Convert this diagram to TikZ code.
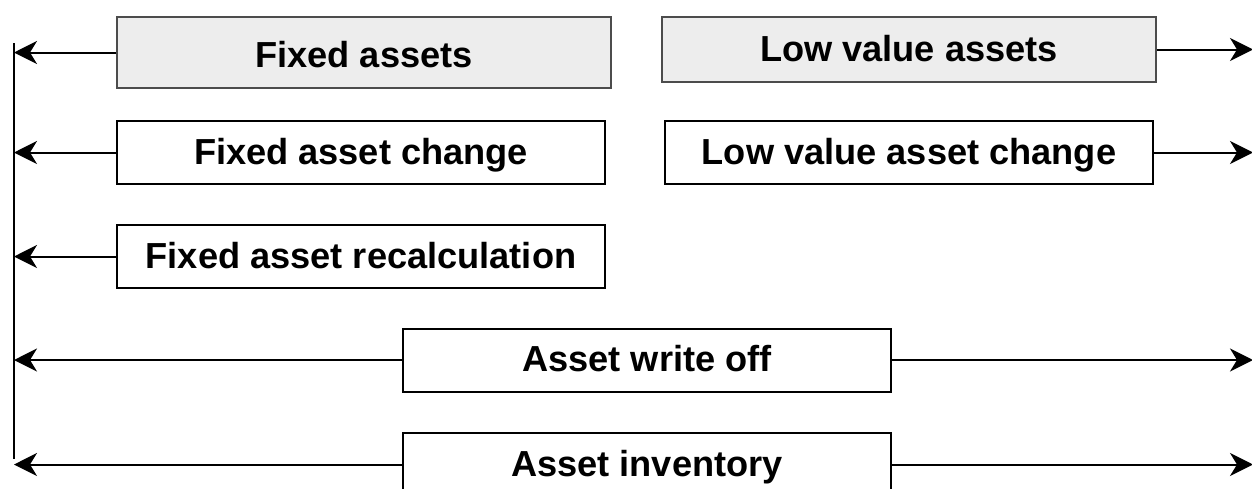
\documentclass[tikz,border=0pt]{standalone}
\usepackage{fontspec}
\setmainfont{Liberation Sans}
\usetikzlibrary{arrows.meta}

\begin{document}
\begin{tikzpicture}[x=1pt,y=-1pt,
    module/.style={draw,line width=1pt,inner sep=0pt,minimum width=244pt,minimum height=31.5pt,
        text height=11.5pt,text depth=0pt,font=\fontsize{18.1}{22}\selectfont\bfseries},
    mainmodule/.style={module,draw=black!70,fill=black!7,minimum width=247pt},
    flow/.style={line width=1pt,-{Stealth[length=11.5pt,width=11.5pt,inset=3.5pt]}}]
    \useasboundingbox (0,0) rectangle (626,244);
    % modules
        \node[mainmodule,minimum height=35.5pt,text height=14.5pt] (fixed) at (182,26.25) {Fixed assets};
        \node[mainmodule,minimum height=32.5pt] (low) at (454.5,24.75) {Low value assets};
        \node[module] (fixedchange) at (180.5,76.25) {Fixed asset change};
        \node[module] (lowchange) at (454.5,76.25) {Low value asset change};
        \node[module] (recalc) at (180.5,128.25) {Fixed asset recalculation};
        \node[module] (writeoff) at (323.5,180) {Asset write off};
        \node[module] (inventory) at (323.5,232.25) {Asset inventory};
    % bus on the left, free ends on the right
        \coordinate (bustop) at (7,21.5);
        \coordinate (busbot) at (7,229.5);
        \coordinate (outside) at (626.5,0);
        \draw[line width=1pt] (bustop) -- (busbot);
    % flows
        \foreach \m in {fixed,fixedchange,recalc,writeoff,inventory}
            \draw[flow] (\m.west) -- (\m.west -| bustop);
        \foreach \m in {low,lowchange,writeoff,inventory}
            \draw[flow] (\m.east) -- (\m.east -| outside);
\end{tikzpicture}
\end{document}
